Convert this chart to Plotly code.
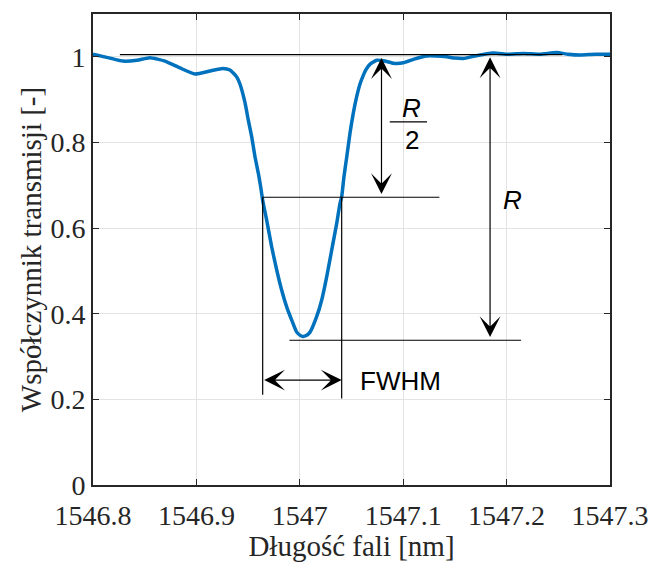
import plotly.graph_objects as go

# ---- data ----
wavelength_nm = [1546.8, 1546.8164, 1546.829, 1546.8426, 1546.8551, 1546.8696, 1546.8841, 1546.8986,
                 1546.9132, 1546.9257, 1546.9325, 1546.939, 1546.9422, 1546.947, 1546.9502, 1546.9535,
                 1546.9567, 1546.9599, 1546.9622, 1546.9641, 1546.968, 1546.9728, 1546.9777, 1546.9825,
                 1546.9873, 1546.9922, 1546.997, 1547.0, 1547.0028, 1547.0062, 1547.0099, 1547.0163,
                 1547.0212, 1547.026, 1547.0308, 1547.0357, 1547.0389, 1547.0405, 1547.0427, 1547.0454,
                 1547.0485, 1547.0517, 1547.055, 1547.058, 1547.0611, 1547.064, 1547.068, 1547.0744,
                 1547.0808, 1547.0904, 1547.1001, 1547.1098, 1547.1227, 1547.1317, 1547.1421, 1547.1501,
                 1547.1581, 1547.1694, 1547.1871, 1547.2014, 1547.2162, 1547.2323, 1547.2485, 1547.2594,
                 1547.2710, 1547.2855, 1547.3]
transmission = [1.006, 0.997, 0.990, 0.992, 0.998, 0.990, 0.974, 0.960,
                0.967, 0.973, 0.969, 0.953, 0.936, 0.893, 0.852, 0.813,
                0.766, 0.728, 0.696, 0.665, 0.618, 0.556, 0.502, 0.455,
                0.416, 0.385, 0.357, 0.350, 0.347, 0.349, 0.357, 0.393,
                0.432, 0.486, 0.548, 0.611, 0.658, 0.673, 0.720, 0.766,
                0.821, 0.868, 0.907, 0.935, 0.955, 0.970, 0.983, 0.992,
                0.991, 0.985, 0.986, 0.994, 1.002, 1.002, 1.000, 0.997,
                0.996, 1.002, 1.009, 1.006, 1.008, 1.006, 1.010, 1.006,
                1.004, 1.006, 1.006]

x_tick_vals = [1546.8, 1546.9, 1547.0, 1547.1, 1547.2, 1547.3]
x_tick_text = ["1546.8", "1546.9", "1547", "1547.1", "1547.2", "1547.3"]
y_tick_vals = [0, 0.2, 0.4, 0.6, 0.8, 1.0]
y_tick_text = ["0", "0.2", "0.4", "0.6", "0.8", "1"]

x_label = "Długość fali [nm]"
y_label = "Współczynnik transmisji [-]"

# annotation geometry (data units)
level_top = 1.005
level_half = 0.672
level_min = 0.338
fwhm_left = 1546.9641
fwhm_right = 1547.0405
half_arrow_x = 1547.079
r_arrow_x = 1547.184
fwhm_arrow_y = 0.245

TXT = "#262626"
serif = "Liberation Serif, Times New Roman, serif"
sans = "Liberation Sans, Arial, sans-serif"

fig = go.Figure()
fig.add_trace(go.Scatter(x=wavelength_nm, y=transmission, mode="lines",
                         line=dict(color="#0072BD", width=3.5, shape="spline", smoothing=0.5),
                         showlegend=False, hoverinfo="skip"))

def hline(x0, x1, y):
    fig.add_shape(type="line", xref="x", yref="y", x0=x0, x1=x1, y0=y, y1=y,
                  line=dict(color="black", width=1.2))

def vline(x, y0, y1):
    fig.add_shape(type="line", xref="x", yref="y", x0=x, x1=x, y0=y0, y1=y1,
                  line=dict(color="black", width=1.2))

hline(1546.826, 1547.254, level_top)
hline(fwhm_left, 1547.135, level_half)
hline(1546.990, 1547.214, level_min)
vline(fwhm_left, level_half, 0.211)
vline(fwhm_right, level_half, 0.202)

def darrow(x0, y0, x1, y1):
    fig.add_annotation(x=x1, y=y1, ax=x0, ay=y0, xref="x", yref="y", axref="x", ayref="y",
                       text="", showarrow=True, arrowside="end+start",
                       arrowhead=3, startarrowhead=3, arrowsize=2.9, startarrowsize=2.9,
                       arrowwidth=1.2, arrowcolor="black", standoff=0, startstandoff=0)

darrow(half_arrow_x, 0.676, half_arrow_x, 0.997)
darrow(r_arrow_x, 0.342, r_arrow_x, 0.999)
darrow(fwhm_left, fwhm_arrow_y, fwhm_right, fwhm_arrow_y)

fig.add_annotation(x=1547.097, y=0.242, text="FWHM", showarrow=False,
                   font=dict(family=sans, size=26, color="black"))
fig.add_annotation(x=1547.206, y=0.665, text="<i>R</i>", showarrow=False,
                   font=dict(family=sans, size=26, color="black"))
fig.add_annotation(x=1547.1085, y=0.880, text="<i>R</i>", showarrow=False,
                   font=dict(family=sans, size=26, color="black"))
fig.add_annotation(x=1547.1085, y=0.806, text="2", showarrow=False,
                   font=dict(family=sans, size=26, color="black"))
hline(1547.087, 1547.123, 0.848)

axis_common = dict(showline=True, linecolor=TXT, linewidth=1.6, mirror="ticks",
                   ticks="inside", ticklen=6, tickcolor=TXT, tickwidth=1.4,
                   showgrid=True, gridcolor="#e3e3e3", gridwidth=1, zeroline=False,
                   automargin=False,
                   tickfont=dict(family=serif, size=28, color=TXT))

fig.update_xaxes(range=[1546.8, 1547.3], tickvals=x_tick_vals, ticktext=x_tick_text,
                 title=dict(text=x_label, font=dict(family=serif, size=29, color=TXT), standoff=5),
                 ticklabelstandoff=5, **axis_common)
fig.update_yaxes(range=[0, 1.1], tickvals=y_tick_vals, ticktext=y_tick_text,
                 title=dict(text=y_label, font=dict(family=serif, size=29, color=TXT), standoff=0),
                 ticklabelstandoff=0, **axis_common)

fig.update_layout(width=653, height=562, margin=dict(l=93, r=43, t=14, b=77),
                  paper_bgcolor="white", plot_bgcolor="white")

fig.write_html("out.html", config={"displayModeBar": False},
               post_script="document.body.style.margin='0';")
